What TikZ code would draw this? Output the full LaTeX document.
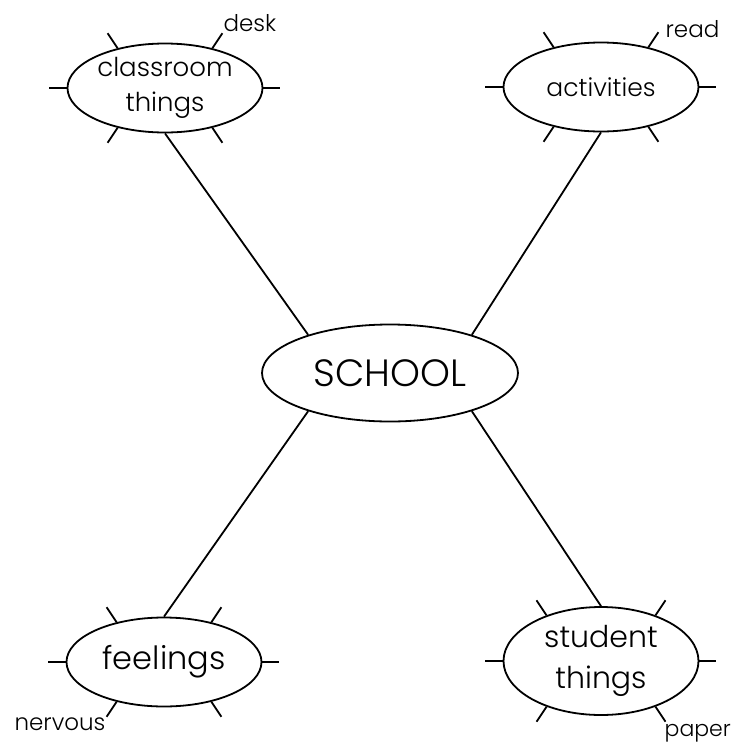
\documentclass[tikz,border=0pt]{standalone}
\usepackage{fontspec}
\setmainfont{Poppins}[UprightFont=* Light]
\usetikzlibrary{shapes.geometric,positioning}

\begin{document}
\begin{tikzpicture}[
  x=1pt, y=-1pt,
  bubble/.style={ellipse, draw, line width=1.8pt, inner sep=0pt, align=center},
  topic/.style={bubble, minimum width=195pt, minimum height=89pt, font=\fontsize{26}{35}\selectfont},
  link/.style={line width=1.8pt},
  tick/.style={line width=1.8pt},
  word/.style={font=\fontsize{23}{26}\selectfont, inner sep=1pt}
]
\useasboundingbox (0,0) rectangle (734,747);

% centre word
\node[bubble, minimum width=256pt, minimum height=97pt, font=\fontsize{38}{42}\selectfont] (school) at (390,373) {SCHOOL};

% four topics
\node[topic] (cls) at (165,88) {classroom\\things};
\node[topic, font=\fontsize{25}{30}\selectfont] (act) at (601,87) {activities};
\node[topic, font=\fontsize{32}{36}\selectfont] (feel) at (164,662) {feelings};
\node[topic, minimum height=108pt, font=\fontsize{30}{41}\selectfont] (stu) at (601,661) {student\\things};

% spokes
\draw[link] (cls.south) -- (school.155);
\draw[link] (act.south) -- (school.25);
\draw[link] (feel.north) -- (school.205);
\draw[link] (stu.north) -- (school.335);

% little ticks round each topic
\foreach \n in {cls,act,feel,stu}{
  \draw[tick] (\n.west) -- ++(-18,0);
  \draw[tick] (\n.east) -- ++(17,0);
  \draw[tick] (\n.140) -- ++(-10,-15) coordinate (\n-nw);
  \draw[tick] (\n.40) -- ++(10,-15) coordinate (\n-ne);
  \draw[tick] (\n.220) -- ++(-10,15) coordinate (\n-sw);
  \draw[tick] (\n.320) -- ++(10,15) coordinate (\n-se);
}

% example words
\node[word, above right=0pt of cls-ne] (desk) {desk};
\node[word, anchor=base west] (read) at ([shift={(6,5)}]act-ne) {read};
\node[word, below left=0pt of feel-sw] (nervous) {nervous};
\node[word, anchor=north west, font=\fontsize{22}{26}\selectfont] (paper) at ([shift={(-2,1)}]stu-se) {paper};

\end{tikzpicture}
\end{document}
